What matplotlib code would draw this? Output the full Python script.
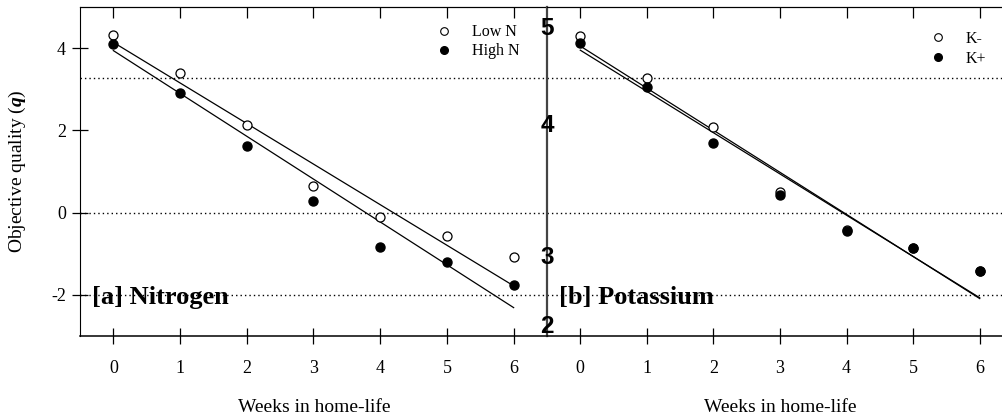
import matplotlib
matplotlib.use('Agg')
import matplotlib.pyplot as plt
import numpy as np
from matplotlib.lines import Line2D

plt.rcParams['font.family'] = 'Liberation Serif'
plt.rcParams['axes.unicode_minus'] = False
plt.rcParams['mathtext.fontset'] = 'custom'
plt.rcParams['mathtext.rm'] = 'Liberation Serif'
plt.rcParams['mathtext.it'] = 'Liberation Serif:italic'
plt.rcParams['mathtext.bf'] = 'Liberation Serif:bold:italic'

# data
weeks = [0, 1, 2, 3, 4, 5, 6]
low_n = [4.32, 3.40, 2.13, 0.65, -0.10, -0.57, -1.09]
high_n = [4.11, 2.92, 1.61, 0.28, -0.84, -1.19, -1.76]
k_minus = [4.30, 3.27, 2.08, 0.51, -0.42, -0.87, -1.41]
k_plus = [4.12, 3.05, 1.69, 0.43, -0.44, -0.87, -1.41]

# fitted lines: (value at week 0, value at week 6)
fit_low_n = (4.14, -1.78)
fit_high_n = (3.94, -2.31)
fit_k_minus = (4.05, -2.09)
fit_k_plus = (3.95, -2.07)

ref_lines = [3.28, 0, -2]
y_ticks = [4, 2, 0, -2]

# second scale drawn on the middle line
sec_labels = ['2', '3', '4', '5']
sec_q = [-2.78, -1.08, 2.13, 4.47]

X_AXIS = 'Weeks in home-life'
Y_AXIS = r'Objective quality ($\mathbf{q}$)'

W, H = 1003, 418
fig = plt.figure(figsize=(W / 100, H / 100), dpi=100)
top = 1 - 7 / H
bot = 1 - 336 / H
ax1 = fig.add_axes([80 / W, bot, (547 - 80) / W, top - bot])
ax2 = fig.add_axes([547 / W, bot, (1003 - 547) / W, top - bot], sharey=ax1)


def draw_panel(ax, open_pts, filled_pts, fit_open, fit_filled, title, xmax):
  x_fit = np.array([weeks[0], weeks[-1]])
  for fit in (fit_open, fit_filled):
    ax.plot(x_fit, fit, color='black', lw=0.9, zorder=2)
  for yv in ref_lines:
    ax.axhline(yv, color='black', lw=1.0, linestyle=(0, (1, 2.2)), zorder=1)
  ax.plot(weeks, open_pts, 'o', mfc='white', mec='black', mew=0.9, ms=6.5, zorder=3)
  ax.plot(weeks, filled_pts, 'o', mfc='black', mec='black', ms=6.5, zorder=4)
  ax.text(-0.32, -2.22, title, fontsize=19, fontweight='bold', va='baseline', ha='left')
  ax.set_xlim(-0.5, xmax)
  ax.set_ylim(-3, 5)
  ax.set_xticks(weeks)
  ax.set_xticklabels([str(w) for w in weeks])
  ax.tick_params(axis='x', which='major', direction='inout', length=12, width=0.9,
                 labelsize=13, pad=11)
  ax.spines['right'].set_visible(False)
  ax.spines['bottom'].set_linewidth(1.1)
  ax.set_xlabel(X_AXIS, fontsize=14, va='center')
  # top ticks, pointing inward
  sec = ax.secondary_xaxis('top')
  sec.set_xticks(weeks)
  sec.tick_params(direction='in', length=8, width=0.9, labeltop=False)
  handles = [
    Line2D([], [], ls='none', marker='o', mfc='white', mec='black', mew=0.8, ms=5.5),
    Line2D([], [], ls='none', marker='o', mfc='black', mec='black', ms=5.5),
  ]
  return handles


h1 = draw_panel(ax1, low_n, high_n, fit_low_n, fit_high_n, '[a] Nitrogen', 6.5)
h2 = draw_panel(ax2, k_minus, k_plus, fit_k_minus, fit_k_plus, '[b] Potassium', 6.35)

ax1.set_yticks(y_ticks)
ax1.set_yticklabels([str(v) for v in y_ticks])
ax1.tick_params(axis='y', direction='inout', length=12, width=0.9, labelsize=13, pad=4)
ax1.set_ylabel(Y_AXIS, fontsize=14, va='center')
ax1.yaxis.set_label_coords((17 - 80) / (547 - 80), 0.5)
ax1.xaxis.set_label_coords(0.501, -(408 - 336) / 329)

ax2.tick_params(axis='y', left=False, labelleft=False)
ax2.spines['left'].set_color('#444444')
ax2.spines['left'].set_linewidth(1.6)
ax2.xaxis.set_label_coords(0.511, -(408 - 336) / 329)
for lab, q in zip(sec_labels, sec_q):
  ax2.text(0, q, lab, transform=ax2.get_yaxis_transform(), ha='center', va='center',
           fontsize=17.5, fontweight='bold', family='Liberation Sans', zorder=5, clip_on=False)

ax1.legend(h1, ['Low N', 'High N'], loc='upper left', bbox_to_anchor=(0.7632, 0.947),
           frameon=False, handlelength=1.0, handletextpad=1.2, labelspacing=0.18,
           fontsize=11.5, borderaxespad=0, borderpad=0)
ax2.legend(h2, ['K-', 'K+'], loc='upper left', bbox_to_anchor=(0.8408, 0.928),
           frameon=False, handlelength=1.0, handletextpad=1.2, labelspacing=0.25,
           fontsize=11.5, borderaxespad=0, borderpad=0)

fig.savefig('out.png', dpi=100)
